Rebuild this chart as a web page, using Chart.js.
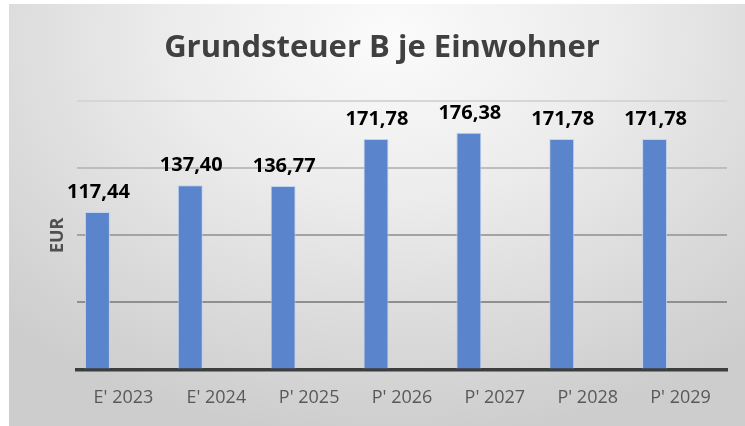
<!DOCTYPE html>
<html>
<head>
<meta charset="utf-8">
<script src="https://cdn.jsdelivr.net/npm/chart.js@4"></script>
<style>
  html, body { margin: 0; padding: 0; background: #ffffff; }
  #wrap {
    position: absolute; left: 9px; top: 4px; width: 736px; height: 422px;
    background: radial-gradient(ellipse 75% 95% at 52% 8%, #fbfbfb 0%, #ececec 40%, #dcdcdc 70%, #cdcdcd 100%);
  }
  canvas { display: block; }
</style>
</head>
<body>
<div id="wrap"><canvas id="c" width="736" height="422"></canvas></div>
<script>
const categories = ["E' 2023", "E' 2024", "P' 2025", "P' 2026", "P' 2027", "P' 2028", "P' 2029"];
const values = [117.44, 137.40, 136.77, 171.78, 176.38, 171.78, 171.78];
const emptySeries = [null, null, null, null, null, null, null];
const chartTitle = "Grundsteuer B je Einwohner";
const yTitle = "EUR";

const FONT = "'Open Sans', 'Noto Sans', sans-serif";

const valueLabels = {
  id: 'valueLabels',
  afterDatasetsDraw(chart) {
    const ctx = chart.ctx;
    const meta = chart.getDatasetMeta(0);
    ctx.save();
    ctx.font = "bold 20px " + FONT;
    ctx.fillStyle = '#000000';
    ctx.textAlign = 'center';
    ctx.textBaseline = 'bottom';
    meta.data.forEach((el, i) => {
      const v = values[i];
      ctx.fillText(v.toFixed(2).replace('.', ','), el.x + 1, el.y - 10);
    });
    ctx.restore();
  }
};

const gridColors = {200: '#d6d6d6', 150: '#bdbdbd', 100: '#a3a3a3', 50: '#8f8f8f', 0: 'rgba(0,0,0,0)'};

new Chart(document.getElementById('c'), {
  type: 'bar',
  data: {
    labels: categories,
    datasets: [
      { label: 'Grundsteuer B', data: values, backgroundColor: '#5a85cc', borderColor: 'rgba(190,210,240,0.9)', borderWidth: 1 },
      { label: '', data: emptySeries },
      { label: ' ', data: emptySeries }
    ]
  },
  options: {
    responsive: false,
    animation: false,
    devicePixelRatio: 1,
    categoryPercentage: 0.84,
    barPercentage: 0.96,
    layout: { padding: { left: 28, right: 18, top: 0, bottom: 7 } },
    plugins: {
      legend: { display: false },
      tooltip: { enabled: false },
      title: {
        display: true,
        text: chartTitle,
        color: '#404040',
        font: { family: FONT, size: 31, weight: 'bold' },
        padding: { top: 26, bottom: 34 }
      }
    },
    scales: {
      x: {
        grid: { display: false },
        border: { display: true, color: '#3d3d3d', width: 3.5 },
        ticks: { color: '#595959', font: { family: FONT, size: 18 }, padding: 10 }
      },
      y: {
        min: 0, max: 200,
        afterFit: (scale) => { scale.width = 40; },
        ticks: { display: false, stepSize: 50 },
        border: { display: false },
        grid: {
          drawTicks: false,
          lineWidth: 2,
          color: (c) => gridColors[c.tick.value] || '#aaaaaa'
        },
        title: {
          display: true, text: yTitle, color: '#505050',
          font: { family: FONT, size: 18, weight: 'bold' },
          padding: { top: 10, bottom: 0 }
        }
      }
    }
  },
  plugins: [valueLabels]
});
</script>
</body>
</html>
